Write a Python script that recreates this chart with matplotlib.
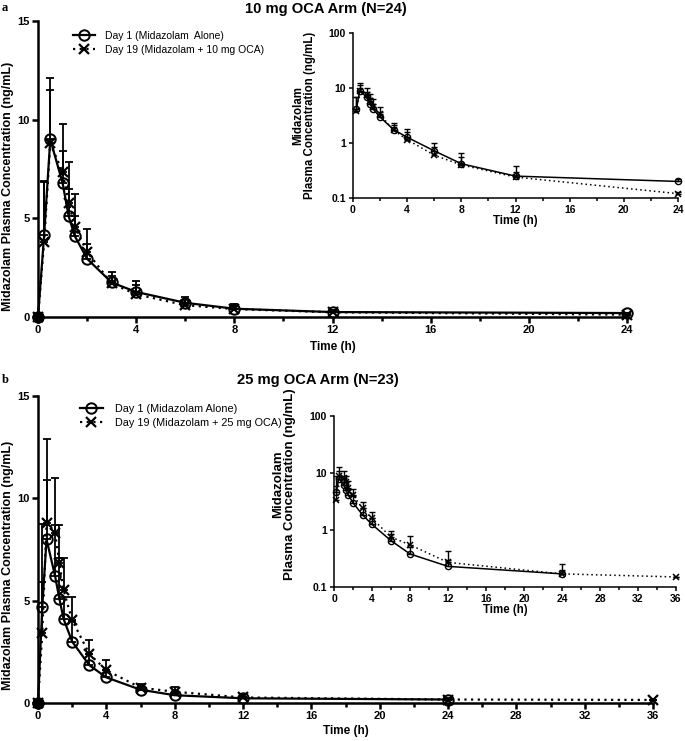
import matplotlib
matplotlib.use("Agg")
import matplotlib.pyplot as plt
import numpy as np
from matplotlib.ticker import MultipleLocator, FixedLocator, FixedFormatter, NullLocator

plt.rcParams["font.family"] = ["Liberation Sans", "DejaVu Sans"]
plt.rcParams["font.weight"] = "bold"
plt.rcParams["axes.labelweight"] = "bold"

# ---- 10 mg OCA arm (N=24) ----
t_10 = [0, 0.25, 0.5, 1, 1.25, 1.5, 2, 3, 4, 6, 8, 12, 24]
day1_10 = [0, 4.15, 9.0, 6.8, 5.1, 4.1, 2.95, 1.75, 1.27, 0.72, 0.42, 0.25, 0.20]
day1_10_sd = [0, 2.7, 3.1, 3.0, 1.4, 1.0, 0.75, 0.55, 0.53, 0.28, 0.23, 0.13, 0.02]
day19_10 = [0, 3.8, 8.8, 7.35, 5.8, 4.55, 3.3, 1.7, 1.15, 0.6, 0.40, 0.24, 0.12]
day19_10_sd = [0, 3.1, 2.7, 1.05, 2.05, 1.7, 1.15, 0.4, 0.45, 0.25, 0.15, 0.06, 0.01]

# ---- 25 mg OCA arm (N=23) ----
t_25_day1 = [0, 0.25, 0.5, 1, 1.25, 1.5, 2, 3, 4, 6, 8, 12, 24]
day1_25 = [0, 4.7, 8.0, 6.2, 5.1, 4.1, 3.0, 1.85, 1.25, 0.65, 0.38, 0.23, 0.17]
day1_25_sd = [0, 4.05, 2.9, 2.5, 2.0, 1.1, 1.0, 0.55, 0.35, 0.2, 0.12, 0.07, 0.08]
t_25_day19 = [0, 0.25, 0.5, 1, 1.25, 1.5, 2, 3, 4, 6, 8, 12, 24, 36]
day19_25 = [0, 3.4, 8.8, 8.3, 6.85, 5.5, 4.05, 2.4, 1.6, 0.75, 0.55, 0.27, 0.17, 0.15]
day19_25_sd = [0, 2.5, 4.1, 2.7, 1.85, 1.6, 1.15, 0.7, 0.5, 0.2, 0.25, 0.16, 0.03, 0]


def draw_curves(ax, t1, y1, s1, t19, y19, s19, inset=False):
    t1, y1, s1 = np.array(t1), np.array(y1), np.array(s1)
    t19, y19, s19 = np.array(t19), np.array(y19), np.array(s19)
    if inset:
        # zero concentration can not be shown on the log axis
        k1, k19 = y1 > 0, y19 > 0
        t1, y1, s1 = t1[k1], y1[k1], s1[k1]
        t19, y19, s19 = t19[k19], y19[k19], s19[k19]
        lw, ms, elw, cap = 1.1, 4.5, 1.0, 2
    else:
        lw, ms, elw, cap = 1.6, 7.5, 1.3, 3
    ax.errorbar(t1, y1, yerr=[np.zeros(len(s1)), s1], fmt="none", ecolor="black",
                elinewidth=elw, capsize=cap, capthick=elw, clip_on=False)
    ax.errorbar(t19, y19, yerr=[np.zeros(len(s19)), s19], fmt="none", ecolor="black",
                elinewidth=elw, capsize=cap, capthick=elw, clip_on=False)
    l1, = ax.plot(t1, y1, "-", color="black", lw=lw, marker="o", ms=ms,
                  mfc="none", mec="black", mew=lw * 0.9, clip_on=False, zorder=4)
    l19, = ax.plot(t19, y19, color="black", lw=lw, ls=(0, (1, 2)), marker="x",
                   ms=ms * 0.9, mew=lw, clip_on=False, zorder=4)
    if not inset:
        ax.plot([0], [0], "o", color="black", ms=ms, clip_on=False, zorder=5)
    return l1, l19


def style_axes(ax, xmax, inset=False):
    for s in ["top", "right"]:
        ax.spines[s].set_visible(False)
    w = 1.1 if inset else 1.8
    ax.spines["left"].set_linewidth(w)
    ax.spines["bottom"].set_linewidth(w)
    ax.set_xlim(0, xmax)
    ax.xaxis.set_major_locator(MultipleLocator(4))
    ax.xaxis.set_minor_locator(MultipleLocator(2))
    ax.tick_params(which="major", direction="out", length=4 if not inset else 3,
                   width=w, labelsize=8 if not inset else 7.5, pad=2)
    ax.tick_params(which="minor", direction="out", length=3 if not inset else 2, width=w)


def bold_ticks(ax):
    for lab in ax.get_xticklabels() + ax.get_yticklabels():
        lab.set_fontweight("bold")


fig = plt.figure(figsize=(6.85, 7.41), dpi=100)
W, H = 685.0, 741.0


def axes_px(x0, x1, ytop, ybot):
    return fig.add_axes([x0 / W, 1 - ybot / H, (x1 - x0) / W, (ybot - ytop) / H])


# ---------- panel a ----------
ax_a = axes_px(38, 627, 21, 317)
l1, l19 = draw_curves(ax_a, t_10, day1_10, day1_10_sd, t_10, day19_10, day19_10_sd)
style_axes(ax_a, 24)
ax_a.set_ylim(0, 15)
ax_a.set_yticks([0, 5, 10, 15])
ax_a.set_xlabel("Time (h)", fontsize=8.5)
ax_a.xaxis.set_label_coords(0.5, -0.08)
ax_a.set_ylabel("Midazolam Plasma Concentration (ng/mL)", fontsize=9)
ax_a.yaxis.set_label_coords(-0.041, 0.44)
fig.legend([l1, l19], ["Day 1 (Midazolam  Alone)", "Day 19 (Midazolam + 10 mg OCA)"],
           loc="upper left", bbox_to_anchor=(73 / W, 1 - 31 / H), frameon=False,
           prop={"weight": "normal", "size": 7.5}, handlelength=2.1,
           handletextpad=1.0, labelspacing=0.35, borderpad=0, borderaxespad=0)

ins_a = axes_px(353, 678, 33, 198)
draw_curves(ins_a, t_10, day1_10, day1_10_sd, t_10, day19_10, day19_10_sd, inset=True)
style_axes(ins_a, 24, inset=True)
ins_a.set_yscale("log")
ins_a.set_ylim(0.1, 100)
ins_a.yaxis.set_major_locator(FixedLocator([0.1, 1, 10, 100]))
ins_a.yaxis.set_major_formatter(FixedFormatter(["0.1", "1", "10", "100"]))
ins_a.yaxis.set_minor_locator(NullLocator())
ins_a.set_xlabel("Time (h)", fontsize=8.3)
ins_a.xaxis.set_label_coords(0.5, -0.1)
ins_a.set_ylabel("Midazolam\nPlasma Concentration (ng/mL)", fontsize=8.3,
                 multialignment="center", linespacing=1.0)
ins_a.yaxis.set_label_coords(-0.114, 0.5)

fig.text(2 / W, 1 - 8 / H, "a", family=["Liberation Serif"], fontsize=9,
         weight="bold", va="center", ha="left")
fig.text(326 / W, 1 - 9 / H, "10 mg OCA Arm (N=24)", fontsize=10.6,
         weight="bold", va="center", ha="center")

# ---------- panel b ----------
ax_b = axes_px(38, 653, 396, 703)
m1, m19 = draw_curves(ax_b, t_25_day1, day1_25, day1_25_sd, t_25_day19, day19_25, day19_25_sd)
style_axes(ax_b, 36)
ax_b.set_ylim(0, 15)
ax_b.set_yticks([0, 5, 10, 15])
ax_b.set_xlabel("Time (h)", fontsize=8.5)
ax_b.xaxis.set_label_coords(0.5, -0.072)
ax_b.set_ylabel("Midazolam Plasma Concentration (ng/mL)", fontsize=9)
ax_b.yaxis.set_label_coords(-0.039, 0.448)
fig.legend([m1, m19], ["Day 1 (Midazolam Alone)", "Day 19 (Midazolam + 25 mg OCA)"],
           loc="upper left", bbox_to_anchor=(80 / W, 1 - 404 / H), frameon=False,
           prop={"weight": "normal", "size": 7.8}, handlelength=2.1,
           handletextpad=1.1, labelspacing=0.35, borderpad=0, borderaxespad=0)

ins_b = axes_px(334, 676, 416, 587)
draw_curves(ins_b, t_25_day1, day1_25, day1_25_sd, t_25_day19, day19_25, day19_25_sd, inset=True)
style_axes(ins_b, 36, inset=True)
ins_b.set_yscale("log")
ins_b.set_ylim(0.1, 100)
ins_b.yaxis.set_major_locator(FixedLocator([0.1, 1, 10, 100]))
ins_b.yaxis.set_major_formatter(FixedFormatter(["0.1", "1", "10", "100"]))
ins_b.yaxis.set_minor_locator(NullLocator())
ins_b.set_xlabel("Time (h)", fontsize=8.3)
ins_b.xaxis.set_label_coords(0.5, -0.1)
ins_b.set_ylabel("Midazolam\nPlasma Concentration (ng/mL)", fontsize=9.5,
                 multialignment="center", linespacing=1.0)
ins_b.yaxis.set_label_coords(-0.111, 0.6)

fig.text(2 / W, 1 - 380 / H, "b", family=["Liberation Serif"], fontsize=9,
         weight="bold", va="center", ha="left")
fig.text(318 / W, 1 - 380 / H, "25 mg OCA Arm (N=23)", fontsize=10.6,
         weight="bold", va="center", ha="center")

for a in [ax_a, ins_a, ax_b, ins_b]:
    bold_ticks(a)

fig.savefig("out.png", dpi=100)
